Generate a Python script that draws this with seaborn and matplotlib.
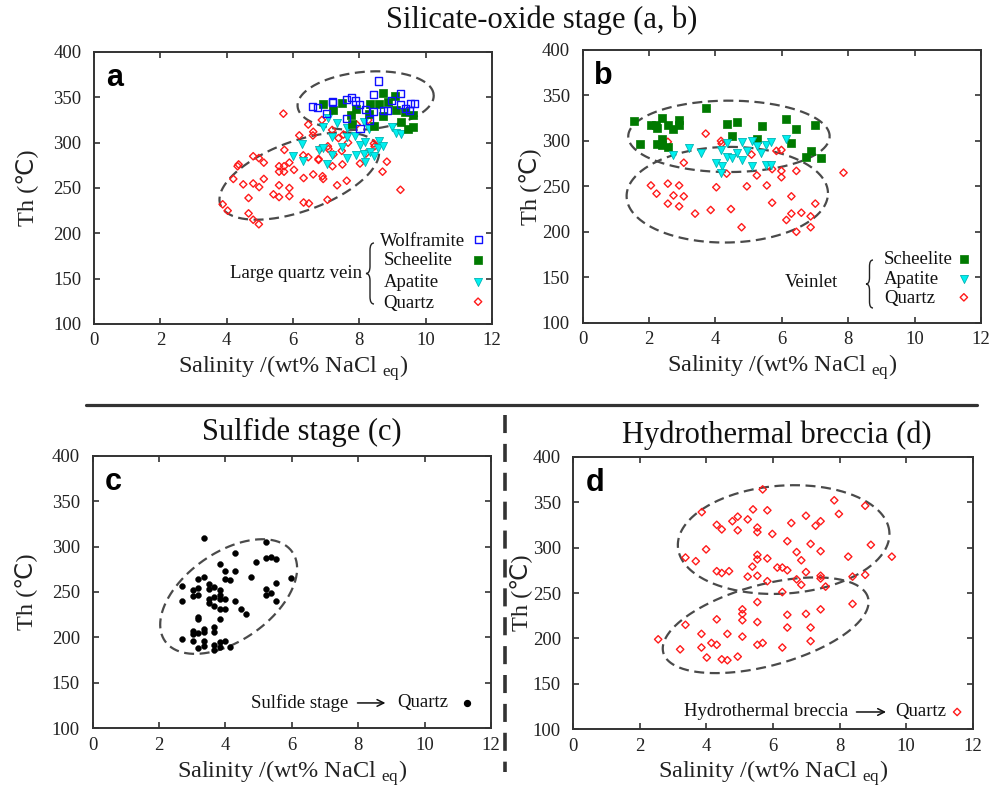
import numpy as np
import pandas as pd
import matplotlib
matplotlib.use("Agg")
import matplotlib.pyplot as plt
import seaborn as sns
from matplotlib.path import Path
from matplotlib.patches import PathPatch
from matplotlib.transforms import IdentityTransform

# ---------------- data ----------------
# Panel a : large quartz vein
a_quartz_x = [5.71, 6.46, 6.61, 6.87, 6.19, 7.18, 7.37, 7.52, 4.33, 4.36, 4.80, 4.97, 5.12, 4.20, 4.50,
              4.80, 4.98, 5.12, 4.66, 3.88, 4.03, 4.66, 4.80, 4.97, 5.41, 5.58, 5.58, 5.89, 5.89, 5.58,
              5.58, 5.73, 5.73, 5.74, 5.89, 6.03, 6.32, 6.32, 6.48, 6.31, 6.46, 6.61, 6.77, 6.89, 6.91,
              7.04, 7.05, 7.07, 7.19, 7.33, 7.49, 7.62, 7.47, 8.02, 8.20, 8.44, 8.70, 8.83, 9.24, 7.92,
              8.27, 6.81, 7.22, 6.77, 8.46, 7.66, 6.60]
a_quartz_y = [332, 320, 312, 325, 308, 314, 305, 309, 274, 276, 285, 283, 278, 260, 254,
              255, 251, 260, 239, 232, 225, 222, 215, 210, 243, 240, 253, 250, 241, 274,
              268, 274, 268, 292, 278, 270, 261, 234, 233, 286, 284, 265, 281, 263, 260,
              237, 296, 293, 274, 253, 276, 258, 291, 277, 288, 299, 268, 279, 248, 320,
              325, 293, 287, 282, 296, 300, 308]
a_wolf_x = [8.58, 8.43, 6.59, 6.75, 7.18, 7.62, 7.75, 7.89, 8.19, 8.43, 8.72, 8.85, 8.98, 9.23, 9.25,
            9.53, 9.65, 9.51, 7.02, 7.62, 8.02, 8.32, 9.38, 7.18, 8.00]
a_wolf_y = [368, 353, 340, 339, 345, 348, 350, 346, 337, 334, 335, 335, 347, 354, 342,
            343, 343, 335, 332, 327, 316, 325, 338, 344, 342]
a_sch_x = [6.89, 7.20, 7.47, 7.75, 7.89, 8.32, 8.58, 8.72, 8.85, 9.09, 9.10, 8.30, 8.44, 8.70, 9.25,
           9.38, 9.63, 9.61, 9.48, 7.77]
a_sch_y = [343, 336, 344, 331, 337, 343, 343, 355, 345, 352, 336, 332, 318, 329, 323,
           334, 330, 317, 315, 321]
a_apa_x = [7.05, 7.32, 6.89, 7.17, 7.62, 7.87, 8.15, 8.30, 8.58, 8.98, 9.10, 9.27, 6.28, 6.01, 6.31,
           6.77, 6.91, 7.04, 7.17, 7.47, 7.62, 7.89, 8.02, 8.15, 8.32, 8.44, 8.55, 8.72, 8.17, 7.62, 8.18]
a_apa_y = [327, 322, 317, 306, 306, 307, 323, 315, 302, 317, 311, 310, 299, 285, 280,
           292, 294, 276, 286, 295, 283, 286, 297, 288, 290, 285, 294, 296, 279, 316, 301]

# Panel b : veinlet
b_sch_x = [1.56, 1.74, 2.06, 2.21, 2.23, 2.40, 2.57, 2.74, 2.91, 2.91, 2.23, 2.40, 2.40, 2.57, 3.71,
           4.34, 4.66, 4.49, 5.25, 5.41, 6.14, 6.44, 6.29, 7.01, 6.87, 6.72, 7.17]
b_sch_y = [322, 297, 317, 318, 314, 325, 318, 313, 323, 317, 297, 302, 295, 293, 336,
           319, 321, 305, 302, 316, 324, 313, 298, 317, 289, 282, 281]
b_apa_x = [2.74, 3.22, 3.56, 4.17, 4.34, 4.34, 4.49, 4.64, 4.79, 4.79, 4.94, 5.09, 5.24, 5.39, 5.54,
           5.69, 6.14, 4.02, 4.19, 4.17, 5.09, 5.54, 5.69]
b_apa_y = [285, 292, 287, 290, 298, 282, 281, 287, 299, 279, 289, 300, 294, 287, 296,
           299, 302, 276, 272, 265, 272, 273, 274]
b_quartz_x = [2.57, 3.71, 4.17, 4.19, 3.05, 4.34, 5.09, 5.25, 5.84, 5.99, 5.71, 5.99, 5.99, 6.44, 7.86,
              2.06, 2.23, 2.57, 2.74, 2.91, 3.05, 2.57, 2.91, 3.39, 3.86, 4.03, 4.47, 4.79, 4.95, 5.55,
              5.71, 6.29, 6.14, 6.29, 6.59, 6.44, 6.87, 6.87, 7.01]
b_quartz_y = [299, 308, 300, 297, 276, 264, 285, 262, 289, 290, 269, 267, 260, 267, 265,
              251, 242, 253, 240, 251, 239, 231, 228, 220, 224, 249, 225, 205, 250, 251,
              232, 239, 213, 220, 221, 200, 217, 205, 231]

# Panel c : sulfide stage quartz
c_quartz_x = [3.35, 5.22, 4.30, 4.92, 5.22, 5.37, 5.52, 3.84, 4.00, 4.30, 3.99, 4.15, 4.77, 5.97, 5.52,
              5.22, 5.22, 5.37, 5.52, 2.70, 3.19, 3.35, 3.02, 3.02, 3.19, 3.19, 3.52, 3.67, 3.52, 3.84,
              3.84, 3.67, 3.52, 3.52, 3.67, 3.84, 4.00, 3.84, 4.00, 2.70, 4.30, 4.46, 4.62, 3.84, 3.19,
              3.19, 3.02, 3.02, 3.19, 3.35, 3.35, 3.67, 3.67, 2.70, 3.02, 3.35, 3.35, 3.19, 3.67, 3.67,
              3.84, 4.00, 3.84, 4.15]
c_quartz_y = [309, 305, 293, 283, 287, 288, 286, 281, 273, 273, 264, 263, 266, 265, 260,
              253, 247, 249, 240, 257, 264, 267, 252, 246, 254, 247, 259, 256, 253, 252,
              247, 245, 242, 238, 235, 242, 242, 231, 231, 240, 240, 231, 226, 220, 222,
              220, 207, 204, 205, 206, 209, 211, 206, 198, 196, 196, 191, 188, 192, 186,
              190, 196, 195, 190]

# Panel d : hydrothermal breccia quartz
d_quartz_x = [5.69, 3.86, 5.40, 5.83, 7.84, 7.98, 8.77, 4.78, 4.94, 5.24, 4.31, 4.46, 4.94, 5.53, 5.53,
              5.98, 6.55, 6.99, 7.28, 7.43, 6.43, 7.13, 8.94, 3.99, 3.37, 3.68, 5.53, 5.53, 5.83, 6.71,
              6.85, 7.43, 8.26, 9.57, 5.38, 6.13, 6.28, 6.43, 4.31, 4.46, 4.68, 5.24, 5.53, 5.83, 6.71,
              6.99, 6.85, 7.43, 7.43, 7.58, 8.39, 8.77, 6.28, 5.53, 8.39, 5.08, 5.08, 5.08, 4.31, 3.37,
              5.53, 6.43, 6.99, 7.43, 6.43, 7.13, 3.85, 4.63, 5.08, 2.55, 4.15, 4.31, 5.53, 5.69, 7.13,
              6.28, 3.21, 3.85, 4.01, 4.46, 4.63, 4.94]
d_quartz_y = [364, 339, 342, 341, 352, 337, 346, 329, 334, 331, 325, 320, 319, 322, 317,
              315, 327, 335, 324, 329, 307, 304, 303, 298, 289, 285, 292, 287, 288, 295,
              286, 296, 290, 290, 279, 278, 278, 275, 274, 272, 274, 268, 269, 263, 265,
              273, 259, 269, 266, 257, 268, 270, 251, 240, 238, 232, 227, 220, 221, 215,
              218, 226, 227, 232, 212, 212, 205, 205, 202, 199, 195, 193, 193, 195, 197,
              190, 188, 190, 179, 177, 176, 180]

x_ticks = [0, 2, 4, 6, 8, 10, 12]
y_ticks = [100, 150, 200, 250, 300, 350, 400]

# ---------------- style ----------------
sns.set_theme(style="ticks")
SERIF = ["Liberation Serif", "DejaVu Sans"]
plt.rcParams["font.family"] = SERIF
plt.rcParams["mathtext.fontset"] = "custom"
plt.rcParams["mathtext.rm"] = "Liberation Serif"
plt.rcParams["axes.edgecolor"] = "#333333"
plt.rcParams["axes.linewidth"] = 1.4

fig = plt.figure(figsize=(10, 7.87), dpi=100)

W, H = 1000.0, 787.0
def rect(left, top, right, bottom):
    return [left / W, 1 - bottom / H, (right - left) / W, (bottom - top) / H]

ax_a = fig.add_axes(rect(94, 52, 492, 324))
ax_b = fig.add_axes(rect(582.5, 50, 981, 322.7))
ax_c = fig.add_axes(rect(92.5, 455.7, 491, 728.3))
ax_d = fig.add_axes(rect(573.3, 456.7, 972.7, 729.3))

GREEN = "#007A00"
CYAN = "#00F0F0"
RED = "#FF1A1A"
BLUE = "#1010FF"

def setup(ax, letter, ypad):
    ax.set_xlim(0, 12)
    ax.set_ylim(100, 400)
    ax.set_xticks(x_ticks)
    ax.set_yticks(y_ticks)
    ax.tick_params(direction="in", length=4, width=1.1, top=True, right=True,
                   labelsize=13.5, colors="#222222")
    ax.tick_params(axis="y", pad=9)
    ax.tick_params(axis="x", pad=6)
    ax.set_xlabel("Salinity /(wt% NaCl $_{\\mathregular{eq}}$)", fontsize=17.5, labelpad=3,
                  color="#222222")
    ax.set_ylabel("Th (\u2103)", fontsize=17.5, labelpad=ypad, color="#222222")
    for s in ax.spines.values():
        s.set_visible(True)
        s.set_color("#333333")
        s.set_linewidth(1.4)
    ax.text(0.03, 0.875, letter, transform=ax.transAxes, fontsize=22, fontweight="bold",
            family="Liberation Sans", color="black", va="baseline", ha="left")

setup(ax_a, "a", 10)
setup(ax_b, "b", 0)
setup(ax_c, "c", 10)
setup(ax_d, "d", 0)

def dashed_ellipse(ax, cx, cy, a_px, b_px, ang):
    t = np.linspace(0, 2 * np.pi, 300)
    c = ax.transData.transform((cx, cy))
    th = np.deg2rad(ang)
    dx = a_px * np.cos(t) * np.cos(th) - b_px * np.sin(t) * np.sin(th)
    dy = a_px * np.cos(t) * np.sin(th) + b_px * np.sin(t) * np.cos(th)
    pts = ax.transData.inverted().transform(np.column_stack([c[0] + dx, c[1] + dy]))
    ax.plot(pts[:, 0], pts[:, 1], ls=(0, (4.5, 2.5)), color="#4a4a4a", lw=1.6, zorder=1)

def sc(ax, xs, ys, **kw):
    df = pd.DataFrame({"Salinity": xs, "Th": ys})
    sns.scatterplot(data=df, x="Salinity", y="Th", ax=ax, legend=False, zorder=3, **kw)

open_diamond = dict(marker="D", s=14, facecolor="none", edgecolor=RED, linewidth=1.0)
open_square = dict(marker="s", s=26, facecolor="none", edgecolor=BLUE, linewidth=1.0)
fill_square = dict(marker="s", s=30, color=GREEN, edgecolor=GREEN, linewidth=0.5)
tri = dict(marker="v", s=34, color=CYAN, edgecolor="#00B5B5", linewidth=0.6)

# ---- panel a
dashed_ellipse(ax_a, 8.19, 346.4, 68.3, 28.8, 5)
dashed_ellipse(ax_a, 6.19, 263.2, 84, 35, 20)
sc(ax_a, a_quartz_x, a_quartz_y, **open_diamond)
sc(ax_a, a_apa_x, a_apa_y, **tri)
sc(ax_a, a_sch_x, a_sch_y, **fill_square)
sc(ax_a, a_wolf_x, a_wolf_y, **open_square)

# ---- panel b
dashed_ellipse(ax_b, 4.41, 305, 100.7, 35.7, 0)
dashed_ellipse(ax_b, 4.36, 240.8, 100.7, 47.8, 1)
sc(ax_b, b_quartz_x, b_quartz_y, **open_diamond)
sc(ax_b, b_sch_x, b_sch_y, **fill_square)
sc(ax_b, b_apa_x, b_apa_y, **tri)

# ---- panel c
dashed_ellipse(ax_c, 4.10, 245, 77.7, 44, 35)
sc(ax_c, c_quartz_x, c_quartz_y, marker="o", s=18, color="black", edgecolor="black", linewidth=0.3)

# ---- panel d
dashed_ellipse(ax_d, 6.32, 308.8, 106, 54, 4)
dashed_ellipse(ax_d, 5.78, 214.5, 106, 40.6, 15)
sc(ax_d, d_quartz_x, d_quartz_y, **open_diamond)

# ---------------- legends (as annotation) ----------------
LFS = 13.5
def key(ax, fx, fy, style):
    st = dict(style)
    m = st.pop("marker"); s = st.pop("s")
    ax.scatter([fx], [fy], transform=ax.transAxes, marker=m, s=s, clip_on=False, zorder=4, **st)

def brace(x_tip, top, bot, w):
    # thin curly brace drawn in figure pixel space (top-origin pixel values)
    mid = (top + bot) / 2.0
    xm = x_tip + w / 2.0
    r = w * 0.9
    pts = [(x_tip + w, top), (xm, top), (xm, top + r),
           (xm, mid - r),
           (xm, mid), (x_tip, mid),
           (xm, mid), (xm, mid + r),
           (xm, bot - r),
           (xm, bot), (x_tip + w, bot)]
    codes = [Path.MOVETO, Path.CURVE3, Path.CURVE3,
             Path.LINETO,
             Path.CURVE3, Path.CURVE3,
             Path.CURVE3, Path.CURVE3,
             Path.LINETO,
             Path.CURVE3, Path.CURVE3]
    verts = [(x, H - y) for x, y in pts]
    fig.add_artist(PathPatch(Path(verts, codes), transform=IdentityTransform(),
                             fill=False, lw=1.0, edgecolor="#222222"))

# panel a
ax_a.text(0.673, 0.1875, "Large quartz vein", transform=ax_a.transAxes, fontsize=LFS,
          ha="right", va="center", color="#111111")
brace(366, 243, 304, 8)
for lab, fx, fy, stl in [("Wolframite", 0.719, 0.305, open_square),
                          ("Scheelite", 0.727, 0.232, fill_square),
                          ("Apatite", 0.727, 0.151, tri),
                          ("Quartz", 0.727, 0.077, open_diamond)]:
    ax_a.text(fx, fy, lab, transform=ax_a.transAxes, fontsize=LFS, ha="left", va="center",
              color="#111111")
    key(ax_a, 0.965, fy + 0.005, stl)

# panel b
ax_b.text(0.641, 0.1456, "Veinlet", transform=ax_b.transAxes, fontsize=LFS,
          ha="right", va="center", color="#111111")
brace(866, 260, 308, 7)
for lab, fy, stl in [("Scheelite", 0.23, fill_square),
                     ("Apatite", 0.157, tri),
                     ("Quartz", 0.088, open_diamond)]:
    ax_b.text(0.757, fy, lab, transform=ax_b.transAxes, fontsize=LFS, ha="left", va="center",
              color="#111111")
    key(ax_b, 0.957, fy + 0.005, stl)

# panel c
ax_c.text(0.641, 0.093, "Sulfide stage", transform=ax_c.transAxes, fontsize=LFS,
          ha="right", va="center", color="#111111")
ax_c.annotate("", xy=(0.742, 0.093), xytext=(0.658, 0.093), xycoords="axes fraction",
              arrowprops=dict(arrowstyle="->", lw=1.1, color="#111111"))
ax_c.text(0.764, 0.093, "Quartz", transform=ax_c.transAxes, fontsize=LFS,
          ha="left", va="center", color="#111111")
key(ax_c, 0.94, 0.093, dict(marker="o", s=18, color="black"))

# panel d
ax_d.text(0.688, 0.0635, "Hydrothermal breccia", transform=ax_d.transAxes, fontsize=LFS,
          ha="right", va="center", color="#111111")
ax_d.annotate("", xy=(0.79, 0.0635), xytext=(0.702, 0.0635), xycoords="axes fraction",
              arrowprops=dict(arrowstyle="->", lw=1.1, color="#111111"))
ax_d.text(0.805, 0.0635, "Quartz", transform=ax_d.transAxes, fontsize=LFS,
          ha="left", va="center", color="#111111")
key(ax_d, 0.961, 0.0635, open_diamond)

# ---------------- titles and separators ----------------
fig.text(542 / W, 1 - 20 / H, "Silicate-oxide stage (a, b)", fontsize=22, ha="center",
         va="center", color="#111111")
fig.text(302 / W, 1 - 432 / H, "Sulfide stage (c)", fontsize=22, ha="center",
         va="center", color="#111111")
fig.text(777 / W, 1 - 435 / H, "Hydrothermal breccia (d)", fontsize=22, ha="center",
         va="center", color="#111111")

fig.add_artist(plt.Line2D([86 / W, 977 / W], [1 - 405 / H, 1 - 405 / H], transform=fig.transFigure,
                          color="#333333", lw=2.3))
fig.add_artist(plt.Line2D([505 / W, 505 / W], [1 - 415 / H, 1 - 772 / H], transform=fig.transFigure,
                          color="#333333", lw=2.6, ls=(0, (5, 3))))

fig.savefig("out.png", dpi=100)
